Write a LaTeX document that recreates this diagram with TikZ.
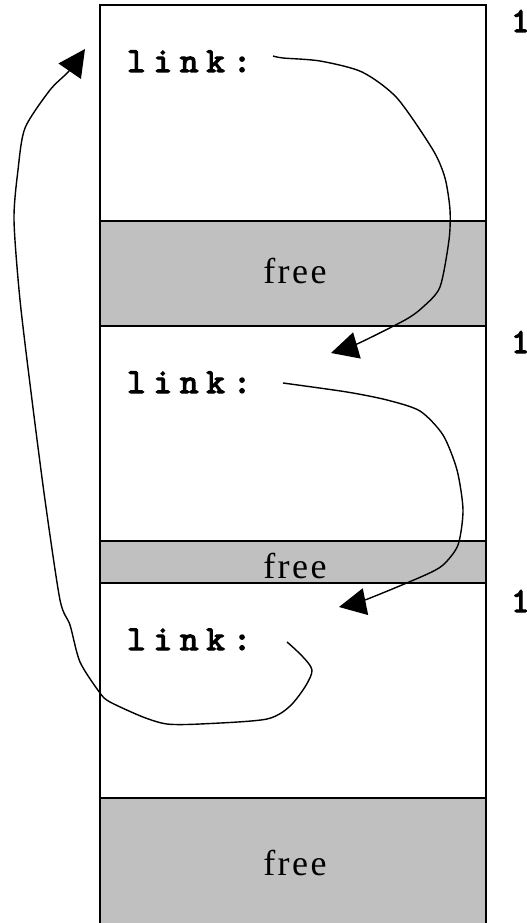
\documentclass[tikz,border=0pt]{standalone}
\usepackage{fontspec}
\setmainfont{Liberation Serif}
\newfontfamily\freefont[LetterSpace=7]{Liberation Serif}
\newfontfamily\codefont[FakeBold=3.5,LetterSpace=23]{lmmono10-regular.otf}
\usetikzlibrary{arrows.meta}
\definecolor{freegray}{HTML}{C0C0C0}
\begin{document}
\begin{tikzpicture}[x=1pt,y=-1pt,
  memblock/.style={draw=black, line width=2.2pt, fill=white, minimum width=386pt, inner sep=0pt, outer sep=0pt},
  freeblock/.style={memblock, fill=freegray},
  linktext/.style={font=\codefont\fontsize{35}{35}\selectfont, anchor=base west, inner sep=0pt},
  addrtext/.style={font=\codefont\fontsize{35}{35}\selectfont, anchor=base west, inner sep=0pt},
  freetext/.style={font=\freefont\fontsize{36}{36}\selectfont, anchor=base, inner sep=0pt},
  ptr/.style={line width=1.4pt, line join=round, -{Triangle[length=27pt,width=27pt]}}
]
\useasboundingbox (0,0) rectangle (527,923);
% memory blocks
\node[memblock, minimum height=216pt] (b1) at (293,113) {};
\node[freeblock, minimum height=105pt] (g1) at (293,273.5) {};
\node[memblock, minimum height=215pt] (b2) at (293,433.5) {};
\node[freeblock, minimum height=42pt] (g2) at (293,562) {};
\node[memblock, minimum height=215pt] (b3) at (293,690.5) {};
\node[freeblock, minimum height=132pt] (g3) at (293,864) {};
% texts
\node[linktext] (l1) at (127,72) {link:};
\node[linktext] (l2) at (127,393) {link:};
\node[linktext] (l3) at (127,650) {link:};
\node[freetext] (f1) at (295,283) {free};
\node[freetext] (f2) at (295,578) {free};
\node[freetext] (f3) at (295,875) {free};
\node[addrtext] (n1) at (511,32) {1};
\node[addrtext] (n2) at (511,353) {1};
\node[addrtext] (n3) at (511,612) {1};
% connector ends
\coordinate (s1) at (273,56);
\coordinate (t1) at (331,353);
\coordinate (s2) at (283,383);
\coordinate (t2) at (339,607);
\coordinate (s3) at (287,642);
\coordinate (t3) at (85,49);
% pointers
\draw[ptr] plot[smooth, tension=0.45] coordinates {(s1) (283,58) (320,61) (362,72) (397,98) (433,150) (445,178) (450,210) (449,240) (440,287) (423,307) (405,320) (357,344) (t1)};
\draw[ptr] plot[smooth, tension=0.45] coordinates {(s2) (347,392) (387,400) (420,411) (443,435) (457,470) (463,510) (458,545) (443,565) (423,576) (365,600) (t2)};
\draw[ptr] plot[smooth, tension=0.45] coordinates {(s3) (312,670) (293,703) (267,719) (200,724) (167,724) (143,717) (110,702) (100,693) (80,662) (70,625) (60,600) (45,500) (32,400) (20,300) (14,220) (18,170) (25,128) (50,90) (69,71) (t3)};
\end{tikzpicture}
\end{document}
